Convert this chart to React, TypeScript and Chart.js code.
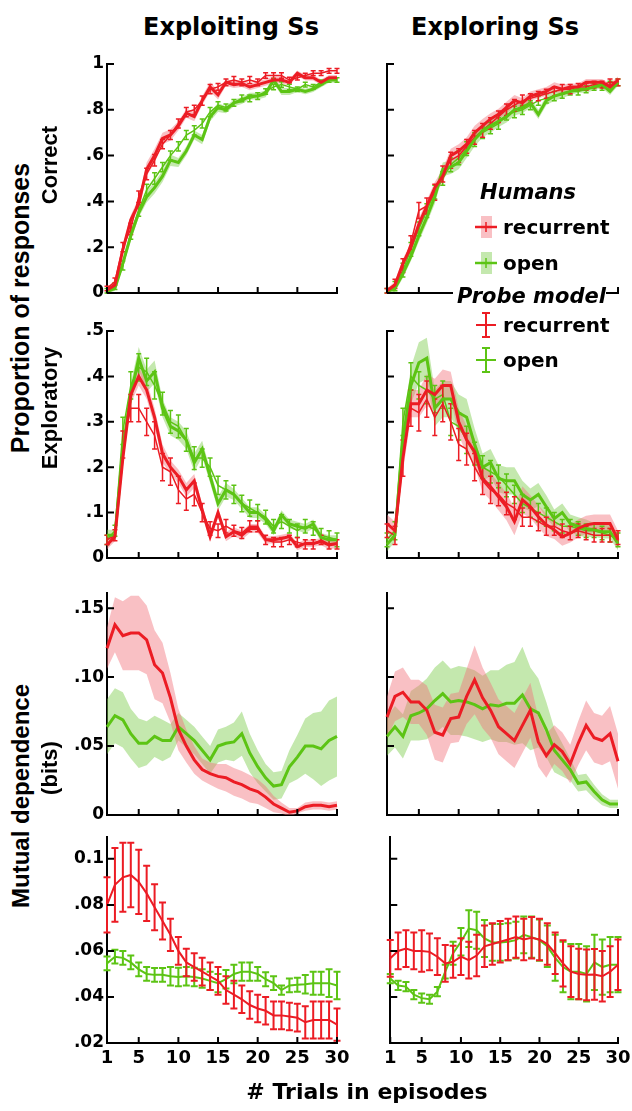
import React, { useEffect, useRef } from 'react';
import { Chart, registerables } from 'chart.js';
Chart.register(...registerables);

// ---------- data ----------
const trials = [1,2,3,4,5,6,7,8,9,10,11,12,13,14,15,16,17,18,19,20,21,22,23,24,25,26,27,28,29,30];
const xTickVals = [1, 5, 10, 15, 20, 25, 30];
const xTickLabels = ['1', '5', '10', '15', '20', '25', '30'];

const yTicksCorrect = [0, 0.2, 0.4, 0.6, 0.8, 1];
const yLabelsCorrect = ['0', '.2', '.4', '.6', '.8', '1'];
const yTicksExplor = [0, 0.1, 0.2, 0.3, 0.4, 0.5];
const yLabelsExplor = ['0', '.1', '.2', '.3', '.4', '.5'];
const yTicksMIHuman = [0, 0.05, 0.1, 0.15];
const yLabelsMIHuman = ['0', '.05', '.10', '.15'];
const yTicksMIModel = [0.02, 0.04, 0.06, 0.08, 0.1];
const yLabelsMIModel = ['.02', '.04', '.06', '.08', '0.1'];

// Row 1: proportion correct
const hCorrRecExploit = [.013,.035,.19,.32,.39,.54,.60,.675,.69,.73,.785,.77,.84,.90,.865,.92,.91,.915,.90,.91,.92,.93,.93,.92,.96,.94,.94,.92,.94,.94];
const hCorrRecExploitErr = [.01,.01,.02,.02,.025,.03,.03,.025,.025,.02,.02,.02,.02,.02,.02,.015,.015,.015,.015,.015,.015,.015,.015,.015,.012,.012,.012,.012,.012,.012];
const mCorrRecExploit = [.02,.05,.2,.28,.42,.52,.58,.65,.69,.74,.79,.80,.84,.89,.90,.92,.93,.92,.93,.92,.95,.95,.95,.93,.94,.95,.96,.96,.97,.97];
const mCorrRecExploitErr = [.01,.015,.02,.025,.025,.025,.025,.02,.02,.02,.02,.02,.02,.02,.015,.015,.015,.015,.015,.015,.012,.012,.012,.012,.01,.01,.01,.01,.01,.01];
const hCorrOpenExploit = [.006,.02,.13,.25,.35,.42,.46,.51,.58,.57,.62,.69,.67,.77,.81,.80,.83,.84,.86,.86,.87,.93,.88,.88,.89,.88,.89,.91,.93,.93];
const hCorrOpenExploitErr = [.01,.01,.02,.02,.02,.025,.025,.025,.025,.02,.02,.02,.02,.02,.02,.015,.015,.015,.015,.015,.015,.015,.015,.015,.012,.012,.012,.012,.012,.012];
const mCorrOpenExploit = [.01,.03,.12,.26,.36,.45,.50,.55,.60,.64,.69,.71,.74,.79,.82,.81,.83,.85,.85,.86,.88,.90,.91,.90,.89,.91,.90,.92,.93,.93];
const mCorrOpenExploitErr = [.01,.015,.02,.025,.025,.025,.025,.02,.02,.02,.02,.02,.02,.02,.015,.015,.015,.015,.015,.015,.012,.012,.012,.012,.01,.01,.01,.01,.01,.01];

const hCorrRecExplore = [.01,.035,.13,.2,.3,.38,.46,.51,.6,.62,.65,.70,.73,.76,.78,.81,.84,.83,.86,.87,.88,.9,.89,.9,.9,.92,.92,.92,.9,.93];
const hCorrRecExploreErr = [.01,.015,.02,.02,.025,.025,.025,.03,.03,.03,.03,.03,.03,.025,.025,.025,.025,.02,.02,.02,.02,.02,.02,.015,.015,.015,.015,.015,.015,.015];
const mCorrRecExplore = [.01,.04,.12,.22,.36,.38,.44,.52,.58,.6,.64,.68,.71,.74,.77,.8,.82,.84,.85,.86,.87,.88,.89,.89,.9,.9,.91,.91,.92,.92];
const mCorrRecExploreErr = [.01,.02,.03,.03,.035,.035,.035,.035,.035,.03,.03,.03,.03,.025,.025,.025,.025,.025,.02,.02,.02,.02,.02,.02,.015,.015,.015,.015,.015,.015];
const hCorrOpenExplore = [.006,.02,.085,.16,.25,.33,.42,.54,.55,.57,.62,.67,.71,.73,.75,.77,.8,.81,.83,.78,.84,.86,.87,.88,.89,.89,.9,.91,.88,.92];
const hCorrOpenExploreErr = [.01,.015,.02,.02,.025,.025,.03,.03,.03,.03,.03,.03,.03,.03,.025,.025,.025,.025,.02,.02,.02,.02,.02,.015,.015,.015,.015,.015,.015,.015];
const mCorrOpenExplore = [.01,.03,.1,.19,.28,.36,.44,.5,.56,.59,.63,.67,.7,.72,.74,.78,.79,.8,.82,.84,.85,.86,.87,.88,.88,.89,.9,.9,.91,.92];
const mCorrOpenExploreErr = [.01,.02,.03,.03,.03,.03,.03,.03,.03,.03,.03,.03,.025,.025,.025,.025,.025,.02,.02,.02,.02,.02,.02,.015,.015,.015,.015,.015,.015,.015];

// Row 2: proportion exploratory
const hExpRecExploit = [.029,.047,.22,.36,.40,.37,.31,.23,.20,.18,.15,.17,.106,.047,.10,.047,.058,.05,.065,.065,.04,.04,.043,.047,.025,.032,.032,.036,.029,.032];
const hExpRecExploitErr = [.01,.01,.02,.02,.02,.02,.02,.02,.015,.015,.015,.015,.012,.01,.01,.01,.01,.01,.01,.01,.008,.008,.008,.008,.008,.008,.008,.008,.01,.01];
const mExpRecExploit = [.04,.05,.25,.33,.33,.30,.27,.20,.19,.15,.13,.14,.10,.065,.06,.07,.06,.055,.07,.07,.04,.035,.035,.04,.035,.03,.03,.04,.03,.03];
const mExpRecExploitErr = [.01,.012,.03,.03,.03,.03,.03,.03,.03,.03,.025,.025,.02,.015,.015,.015,.012,.012,.012,.012,.01,.01,.01,.01,.01,.01,.01,.01,.01,.01];
const hExpOpenExploit = [.05,.05,.24,.36,.44,.39,.41,.33,.29,.28,.26,.21,.24,.18,.12,.15,.14,.12,.10,.10,.085,.06,.095,.075,.07,.065,.075,.045,.04,.04];
const hExpOpenExploitErr = [.012,.012,.02,.025,.025,.025,.025,.02,.02,.02,.02,.02,.018,.015,.015,.015,.012,.012,.012,.012,.01,.01,.01,.01,.01,.01,.01,.01,.01,.01];
const mExpOpenExploit = [.04,.06,.28,.38,.42,.41,.38,.34,.30,.29,.26,.22,.22,.20,.16,.15,.14,.12,.11,.10,.09,.07,.08,.07,.06,.07,.065,.05,.045,.04];
const mExpOpenExploitErr = [.01,.012,.03,.03,.03,.03,.03,.025,.025,.025,.025,.025,.02,.02,.02,.02,.02,.018,.018,.018,.015,.015,.015,.015,.015,.015,.015,.015,.015,.015];

const hExpRecExplore = [.076,.06,.22,.34,.34,.37,.36,.38,.38,.30,.26,.234,.175,.157,.135,.113,.08,.128,.113,.091,.073,.062,.047,.054,.065,.073,.076,.076,.076,.04];
const hExpRecExploreErr = [.02,.02,.03,.03,.03,.035,.035,.035,.03,.03,.03,.03,.03,.03,.03,.03,.03,.03,.025,.025,.025,.02,.02,.02,.02,.02,.02,.02,.02,.02];
const mExpRecExplore = [.06,.05,.22,.33,.32,.35,.31,.34,.30,.25,.24,.20,.17,.15,.14,.12,.11,.09,.09,.08,.07,.07,.06,.055,.06,.055,.05,.05,.05,.045];
const mExpRecExploreErr = [.015,.02,.04,.04,.04,.04,.04,.04,.04,.035,.035,.03,.03,.03,.025,.025,.025,.02,.02,.02,.02,.02,.015,.015,.015,.015,.015,.015,.015,.015];
const hExpOpenExplore = [.03,.05,.26,.38,.43,.44,.33,.35,.35,.32,.31,.25,.20,.21,.175,.17,.17,.14,.128,.14,.113,.087,.10,.076,.07,.065,.062,.058,.058,.032];
const hExpOpenExploreErr = [.015,.015,.03,.04,.045,.045,.04,.04,.04,.04,.04,.035,.03,.03,.03,.03,.03,.03,.025,.025,.025,.02,.02,.02,.02,.02,.015,.015,.015,.015];
const mExpOpenExplore = [.04,.06,.30,.40,.38,.37,.35,.36,.30,.29,.26,.23,.20,.19,.18,.16,.14,.12,.11,.10,.09,.08,.07,.07,.065,.06,.06,.055,.05,.04];
const mExpOpenExploreErr = [.015,.02,.03,.03,.03,.03,.03,.03,.03,.03,.03,.025,.025,.025,.025,.025,.02,.02,.02,.02,.02,.02,.015,.015,.015,.015,.015,.015,.015,.015];

// Row 3: mutual dependence, humans
const hMIRecExploit = [.121,.138,.13,.132,.132,.127,.109,.103,.085,.062,.05,.04,.033,.03,.028,.027,.024,.022,.019,.017,.013,.008,.005,.002,.003,.006,.007,.007,.006,.007];
const hMIRecExploitErr = [.015,.02,.025,.027,.027,.025,.025,.022,.018,.015,.012,.01,.008,.008,.009,.01,.01,.01,.01,.009,.008,.006,.004,.003,.002,.003,.003,.003,.003,.003];
const hMIOpenExploit = [.064,.072,.069,.059,.052,.052,.057,.054,.054,.064,.059,.054,.047,.04,.05,.052,.053,.059,.045,.035,.027,.021,.022,.035,.042,.05,.05,.048,.054,.057];
const hMIOpenExploitErr = [.02,.02,.02,.018,.018,.016,.015,.015,.012,.01,.01,.01,.01,.01,.012,.012,.014,.016,.014,.012,.01,.01,.01,.012,.016,.02,.024,.027,.029,.029];
const hMIRecExplore = [.071,.086,.089,.082,.082,.076,.06,.058,.07,.071,.086,.098,.085,.076,.064,.059,.054,.065,.076,.053,.043,.051,.046,.037,.052,.065,.056,.054,.059,.039];
const hMIRecExploreErr = [.015,.018,.018,.016,.016,.018,.02,.02,.018,.018,.02,.025,.022,.02,.02,.02,.02,.02,.02,.018,.016,.014,.014,.014,.016,.018,.018,.018,.02,.02];
const hMIOpenExplore = [.057,.064,.057,.072,.074,.077,.083,.088,.082,.083,.082,.08,.077,.08,.079,.081,.081,.087,.077,.074,.062,.047,.04,.033,.023,.024,.017,.011,.008,.008];
const hMIOpenExploreErr = [.014,.015,.016,.018,.02,.022,.024,.024,.024,.025,.025,.025,.024,.025,.026,.028,.03,.035,.03,.025,.02,.016,.012,.008,.006,.006,.005,.004,.003,.003];

// Row 4: mutual dependence, probe model
const mMIRecExploit = [.080,.0887,.092,.093,.090,.085,.079,.073,.067,.060,.055,.053,.051,.049,.047,.043,.041,.039,.0365,.035,.034,.032,.032,.0315,.031,.029,.030,.030,.030,.028];
const mMIRecExploitErr = [.012,.016,.015,.014,.014,.012,.01,.008,.007,.006,.006,.006,.006,.006,.006,.006,.006,.006,.006,.006,.006,.006,.006,.006,.006,.007,.008,.008,.008,.007];
const mMIOpenExploit = [.0546,.0575,.057,.055,.052,.050,.0496,.0496,.049,.0487,.049,.0487,.048,.047,.046,.0477,.050,.051,.051,.050,.0477,.046,.043,.045,.0453,.0455,.046,.046,.046,.045];
const mMIOpenExploitErr = [.003,.003,.003,.003,.003,.003,.003,.003,.004,.004,.004,.004,.004,.004,.004,.004,.004,.004,.004,.003,.003,.003,.002,.003,.003,.004,.005,.005,.006,.006];
const mMIRecExplore = [.0568,.060,.061,.060,.060,.0596,.0575,.0546,.0553,.0575,.056,.058,.062,.063,.064,.065,.066,.065,.0657,.065,.063,.059,.0546,.051,.050,.0496,.0498,.049,.051,.054];
const mMIRecExploreErr = [.008,.008,.008,.008,.009,.008,.008,.008,.007,.008,.008,.009,.009,.009,.009,.009,.009,.009,.009,.009,.009,.009,.01,.011,.011,.011,.011,.011,.011,.011];
const mMIOpenExplore = [.048,.045,.0445,.041,.0395,.039,.0423,.051,.059,.064,.0697,.069,.0654,.0637,.0637,.064,.0647,.067,.066,.0647,.062,.057,.053,.051,.051,.050,.055,.053,.054,.054];
const mMIOpenExploreErr = [.002,.002,.002,.002,.002,.002,.002,.003,.005,.006,.008,.008,.008,.008,.008,.008,.008,.008,.009,.009,.009,.01,.011,.012,.012,.012,.012,.012,.012,.012];

// ---------- styles ----------
const RED = '#ec1c24';
const RED_BAND = 'rgba(242,115,125,0.45)';
const GREEN = '#5cc414';
const GREEN_BAND = 'rgba(125,205,75,0.45)';
const TICK_FONT = '"DejaVu Sans", sans-serif';
const TEXT_FONT = '"DejaVu Sans", sans-serif';
const LABEL_FONT = '"Liberation Sans", Arial, sans-serif';

const COLS = [{ x0: 107, x1: 337 }, { x0: 387, x1: 618 }];
const ROWS = [
  { top: 64, bottom: 293 },
  { top: 331, bottom: 558 },
  { top: 593, bottom: 815 },
  { top: 837, bottom: 1043 },
];

type Series = { kind: 'human' | 'model'; mean: number[]; err: number[]; color: string; band?: string; lw: number; ew?: number; cap?: number };

const human = (mean: number[], err: number[], red: boolean): Series => ({
  kind: 'human', mean, err, color: red ? RED : GREEN, band: red ? RED_BAND : GREEN_BAND, lw: 3,
});
const model = (mean: number[], err: number[], red: boolean, lw = 1.5, cap = 2.5): Series => ({
  kind: 'model', mean, err, color: red ? RED : GREEN, lw, ew: lw, cap,
});

type PanelCfg = { col: number; row: number; yMin: number; yMax: number; yTicks: number[]; yLabels: string[]; series: Series[] };

const PANELS: PanelCfg[] = [
  { col: 0, row: 0, yMin: 0, yMax: 1, yTicks: yTicksCorrect, yLabels: yLabelsCorrect, series: [
    human(hCorrRecExploit, hCorrRecExploitErr, true), human(hCorrOpenExploit, hCorrOpenExploitErr, false),
    model(mCorrRecExploit, mCorrRecExploitErr, true), model(mCorrOpenExploit, mCorrOpenExploitErr, false)] },
  { col: 1, row: 0, yMin: 0, yMax: 1, yTicks: yTicksCorrect, yLabels: yLabelsCorrect, series: [
    human(hCorrRecExplore, hCorrRecExploreErr, true), human(hCorrOpenExplore, hCorrOpenExploreErr, false),
    model(mCorrRecExplore, mCorrRecExploreErr, true), model(mCorrOpenExplore, mCorrOpenExploreErr, false)] },
  { col: 0, row: 1, yMin: 0, yMax: 0.5, yTicks: yTicksExplor, yLabels: yLabelsExplor, series: [
    human(hExpRecExploit, hExpRecExploitErr, true), human(hExpOpenExploit, hExpOpenExploitErr, false),
    model(mExpRecExploit, mExpRecExploitErr, true), model(mExpOpenExploit, mExpOpenExploitErr, false)] },
  { col: 1, row: 1, yMin: 0, yMax: 0.5, yTicks: yTicksExplor, yLabels: yLabelsExplor, series: [
    human(hExpRecExplore, hExpRecExploreErr, true), human(hExpOpenExplore, hExpOpenExploreErr, false),
    model(mExpRecExplore, mExpRecExploreErr, true), model(mExpOpenExplore, mExpOpenExploreErr, false)] },
  { col: 0, row: 2, yMin: 0, yMax: 0.161, yTicks: yTicksMIHuman, yLabels: yLabelsMIHuman, series: [
    human(hMIRecExploit, hMIRecExploitErr, true), human(hMIOpenExploit, hMIOpenExploitErr, false)] },
  { col: 1, row: 2, yMin: 0, yMax: 0.161, yTicks: yTicksMIHuman, yLabels: yLabelsMIHuman, series: [
    human(hMIRecExplore, hMIRecExploreErr, true), human(hMIOpenExplore, hMIOpenExploreErr, false)] },
  { col: 0, row: 3, yMin: 0.02, yMax: 0.1095, yTicks: yTicksMIModel, yLabels: yLabelsMIModel, series: [
    model(mMIRecExploit, mMIRecExploitErr, true, 2, 3.5), model(mMIOpenExploit, mMIOpenExploitErr, false, 2, 3.5)] },
  { col: 1, row: 3, yMin: 0.02, yMax: 0.1095, yTicks: yTicksMIModel, yLabels: yLabelsMIModel, series: [
    model(mMIRecExplore, mMIRecExploreErr, true, 2, 3.5), model(mMIOpenExplore, mMIOpenExploreErr, false, 2, 3.5)] },
];

// ---------- plugins ----------
const errorBarPlugin = {
  id: 'errbars',
  afterDatasetDraw(chart: any, args: any) {
    const ds = chart.data.datasets[args.index];
    if (!ds.errs) return;
    const { ctx } = chart;
    const x = chart.scales.x, y = chart.scales.y;
    ctx.save();
    ctx.strokeStyle = ds.borderColor;
    ctx.lineWidth = ds.errWidth;
    ds.data.forEach((p: any, i: number) => {
      const e = ds.errs[i];
      const px = x.getPixelForValue(p.x);
      const y1 = y.getPixelForValue(p.y - e);
      const y2 = y.getPixelForValue(p.y + e);
      ctx.beginPath();
      ctx.moveTo(px, y1); ctx.lineTo(px, y2);
      ctx.moveTo(px - ds.capW, y1); ctx.lineTo(px + ds.capW, y1);
      ctx.moveTo(px - ds.capW, y2); ctx.lineTo(px + ds.capW, y2);
      ctx.stroke();
    });
    ctx.restore();
  },
};

const inwardTicksPlugin = {
  id: 'inwardTicks',
  afterDraw(chart: any) {
    const { ctx, chartArea } = chart;
    const x = chart.scales.x, y = chart.scales.y;
    ctx.save();
    ctx.strokeStyle = '#000';
    ctx.lineWidth = 2;
    ctx.beginPath();
    x.ticks.forEach((t: any) => {
      const px = x.getPixelForValue(t.value);
      ctx.moveTo(px, chartArea.bottom); ctx.lineTo(px, chartArea.bottom - 6);
    });
    y.ticks.forEach((t: any) => {
      const py = y.getPixelForValue(t.value);
      ctx.moveTo(chartArea.left, py); ctx.lineTo(chartArea.left + 7, py);
    });
    ctx.stroke();
    ctx.restore();
  },
};

function buildDatasets(series: Series[]) {
  const out: any[] = [];
  const pts = (arr: number[]) => arr.map((v, i) => ({ x: trials[i], y: v }));
  series.forEach((s) => {
    if (s.kind === 'human') {
      out.push({ data: pts(s.mean.map((m, i) => m + s.err[i])), borderColor: 'transparent', borderWidth: 0, pointRadius: 0, fill: false, order: 5 });
      out.push({ data: pts(s.mean.map((m, i) => m - s.err[i])), borderColor: 'transparent', borderWidth: 0, pointRadius: 0, fill: '-1', backgroundColor: s.band, order: 5 });
      out.push({ data: pts(s.mean), borderColor: s.color, borderWidth: s.lw, pointRadius: 0, fill: false, order: 1, clip: 4 });
    } else {
      out.push({ data: pts(s.mean), borderColor: s.color, borderWidth: s.lw, pointRadius: 0, fill: false, order: 2, clip: 4, errs: s.err, errWidth: s.ew, capW: s.cap });
    }
  });
  return out;
}

function Panel({ cfg }: { cfg: PanelCfg }) {
  const ref = useRef<HTMLCanvasElement>(null);
  const { x0, x1 } = COLS[cfg.col];
  const { top, bottom } = ROWS[cfg.row];
  const YW = cfg.col === 0 ? 60 : 8;
  const PT = 14, PR = 18;
  const XH = cfg.row === 3 ? 36 : 14;
  const w = YW + (x1 - x0) + PR;
  const h = PT + (bottom - top) + XH;
  const showY = cfg.col === 0;
  const showX = cfg.row === 3;

  useEffect(() => {
    const chart = new Chart(ref.current as HTMLCanvasElement, {
      type: 'line',
      data: { datasets: buildDatasets(cfg.series) },
      options: {
        animation: false,
        responsive: false,
        devicePixelRatio: 1,
        layout: { padding: { left: 0, top: PT, right: PR, bottom: 0 } },
        plugins: { legend: { display: false }, tooltip: { enabled: false } },
        elements: { line: { tension: 0 } },
        scales: {
          x: {
            type: 'linear', min: 1, max: 30,
            grid: { display: false, drawTicks: false },
            border: { display: true, color: '#000', width: 2 },
            afterBuildTicks: (scale: any) => { scale.ticks = xTickVals.map((v) => ({ value: v })); },
            afterFit: (scale: any) => { scale.height = XH; },
            ticks: {
              display: showX, autoSkip: false, maxRotation: 0, padding: 5, color: '#000',
              font: { family: TICK_FONT, size: 18, weight: 'bold' },
              callback: (_v: any, i: number) => xTickLabels[i],
            },
          },
          y: {
            type: 'linear', min: cfg.yMin, max: cfg.yMax,
            grid: { display: false, drawTicks: false },
            border: { display: true, color: '#000', width: 2 },
            afterBuildTicks: (scale: any) => { scale.ticks = cfg.yTicks.map((v) => ({ value: v })); },
            afterFit: (scale: any) => { scale.width = YW; },
            ticks: {
              display: showY, padding: 3, color: '#000',
              font: { family: TICK_FONT, size: 17, weight: 'bold' },
              callback: (_v: any, i: number) => cfg.yLabels[i],
            },
          },
        },
      } as any,
      plugins: [errorBarPlugin, inwardTicksPlugin],
    });
    return () => chart.destroy();
  }, []);

  return (
    <canvas
      ref={ref}
      width={w}
      height={h}
      style={{ position: 'absolute', left: x0 - YW, top: top - PT, width: w, height: h }}
    />
  );
}

// ---------- text helpers ----------
function Rot({ text, cx, cy, size }: { text: string; cx: number; cy: number; size: number }) {
  return (
    <div style={{
      position: 'absolute', left: cx, top: cy, transform: 'translate(-50%, -50%) rotate(-90deg)',
      whiteSpace: 'nowrap', font: `bold ${size}px ${LABEL_FONT}`, lineHeight: 1, color: '#000',
    }}>{text}</div>
  );
}

function Txt({ text, x, cy, size, italic, center, bg }: { text: string; x: number; cy: number; size: number; italic?: boolean; center?: boolean; bg?: boolean }) {
  return (
    <div style={{
      position: 'absolute', left: x, top: cy - size * 0.6, height: size * 1.2, lineHeight: `${size * 1.2}px`,
      transform: center ? 'translateX(-50%)' : undefined,
      whiteSpace: 'nowrap', fontFamily: TEXT_FONT, fontSize: size, fontWeight: 'bold',
      fontStyle: italic ? 'italic' : 'normal', color: '#000',
      background: bg ? '#fff' : undefined, paddingLeft: bg ? 4 : 0,
      marginLeft: bg ? -4 : 0,
    }}>{text}</div>
  );
}

function HumanIcon({ cx, cy, color, band }: { cx: number; cy: number; color: string; band: string }) {
  return (
    <svg style={{ position: 'absolute', left: cx - 12, top: cy - 12 }} width={24} height={24}>
      <rect x={7} y={1} width={11} height={22} fill={band} />
      <line x1={1} y1={12} x2={23} y2={12} stroke={color} strokeWidth={2.5} />
      <line x1={12} y1={7} x2={12} y2={17} stroke={color} strokeWidth={1.5} />
    </svg>
  );
}

function ModelIcon({ cx, cy, color }: { cx: number; cy: number; color: string }) {
  return (
    <svg style={{ position: 'absolute', left: cx - 12, top: cy - 14 }} width={24} height={28}>
      <line x1={12} y1={2} x2={12} y2={26} stroke={color} strokeWidth={2} />
      <line x1={8} y1={2} x2={16} y2={2} stroke={color} strokeWidth={2} />
      <line x1={8} y1={26} x2={16} y2={26} stroke={color} strokeWidth={2} />
      <line x1={2} y1={14} x2={22} y2={14} stroke={color} strokeWidth={2} />
    </svg>
  );
}

export default function App() {
  return (
    <div style={{ position: 'absolute', left: 0, top: 0, width: 632, height: 1111, background: '#fff', overflow: 'hidden' }}>
      {PANELS.map((p, i) => <Panel key={i} cfg={p} />)}

      <Txt text="Exploiting Ss" x={231} cy={27} size={24} center />
      <Txt text="Exploring Ss" x={495} cy={27} size={24} center />

      <Rot text="Proportion of responses" cx={20} cy={308} size={25} />
      <Rot text="Correct" cx={50} cy={165} size={22} />
      <Rot text="Exploratory" cx={50} cy={408} size={22} />
      <Rot text="Mutual dependence" cx={21} cy={796} size={24} />
      <Rot text="(bits)" cx={50} cy={768} size={22} />

      <Txt text="# Trials in episodes" x={367} cy={1092} size={22} center />

      <Txt text="Humans" x={480} cy={193} size={21} italic />
      <HumanIcon cx={486} cy={227} color={RED} band={RED_BAND} />
      <Txt text="recurrent" x={503} cy={227} size={20} />
      <HumanIcon cx={486} cy={263} color={GREEN} band={GREEN_BAND} />
      <Txt text="open" x={503} cy={263} size={20} />
      <Txt text="Probe model" x={457} cy={297} size={21} italic bg />
      <ModelIcon cx={486} cy={325} color={RED} />
      <Txt text="recurrent" x={503} cy={325} size={20} />
      <ModelIcon cx={486} cy={360} color={GREEN} />
      <Txt text="open" x={503} cy={360} size={20} />
    </div>
  );
}
